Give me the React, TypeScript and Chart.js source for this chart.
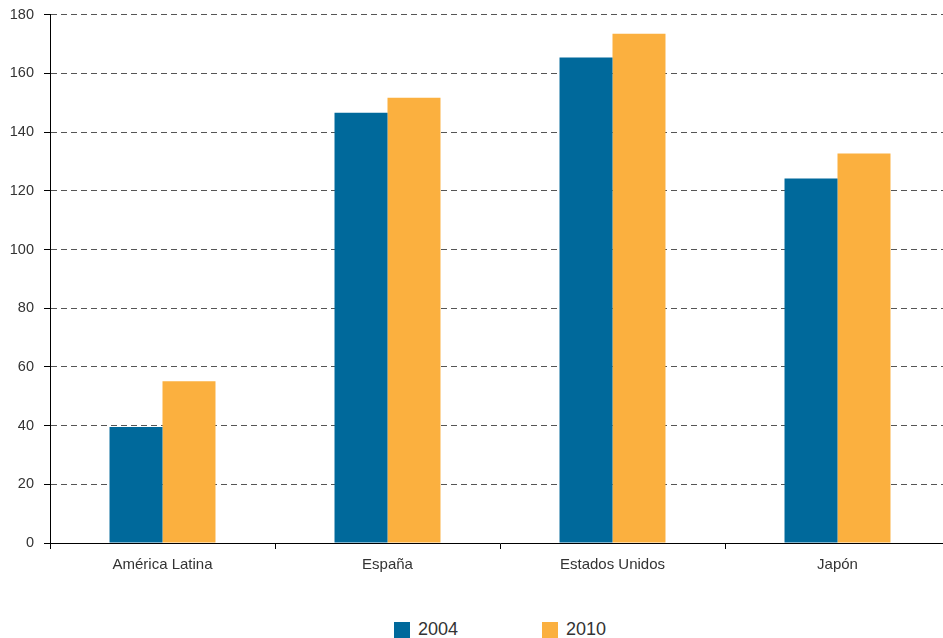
import React, { useEffect, useRef } from "react";
import { Chart, registerables } from "chart.js";

Chart.register(...registerables);

const categories = ["América Latina", "España", "Estados Unidos", "Japón"];
const series2004 = [39.5, 146.6, 165.4, 124.2];
const series2010 = [55.1, 151.7, 173.5, 132.7];
const seriesLabels = ["2004", "2010"];
const colors = ["#00699B", "#FBB03F"];

const FONT = "'Liberation Sans', Arial, sans-serif";

export default function App() {
  const ref = useRef<HTMLCanvasElement | null>(null);

  useEffect(() => {
    document.body.style.margin = "0";
    const chart = new Chart(ref.current as HTMLCanvasElement, {
      type: "bar",
      data: {
        labels: categories,
        datasets: [
          { label: seriesLabels[0], data: series2004, backgroundColor: colors[0], borderWidth: 0 },
          { label: seriesLabels[1], data: series2010, backgroundColor: colors[1], borderWidth: 0 },
        ],
      },
      options: {
        responsive: false,
        animation: false,
        layout: { padding: { top: 10, right: 0, left: 0, bottom: 0 } },
        datasets: { bar: { categoryPercentage: 0.471, barPercentage: 1 } },
        plugins: { legend: { display: false }, tooltip: { enabled: false } },
        scales: {
          x: {
            offset: true,
            grid: {
              display: true,
              offset: true,
              drawOnChartArea: false,
              drawTicks: true,
              tickLength: 6,
              color: "#000",
            },
            border: { display: true, color: "#000", width: 1 },
            ticks: { color: "#333", font: { family: FONT, size: 15 }, padding: 7 },
            afterFit: (s: any) => {
              s.height = 65;
            },
          },
          y: {
            min: 0,
            max: 180,
            ticks: { stepSize: 20, color: "#333", font: { family: FONT, size: 14.5 }, padding: 10 },
            grid: {
              color: "#555",
              lineWidth: 1,
              tickLength: 6,
              tickColor: "#000",
              tickBorderDash: [],
            },
            border: { display: true, color: "#000", width: 1, dash: [6, 4] },
            afterFit: (s: any) => {
              s.width = 50;
            },
          },
        },
      },
      plugins: [
        {
          id: "dashGrid",
          beforeInit(c: any) {
            c.options.scales.y.grid.borderDash = [6, 4];
          },
        },
      ],
    } as any);
    return () => chart.destroy();
  }, []);

  return (
    <div style={{ position: "relative", width: 943, height: 638, background: "#fff", overflow: "hidden" }}>
      <canvas ref={ref} width={950} height={612} style={{ display: "block", marginTop: -4 }} />
      <div
        style={{
          position: "absolute",
          left: 394,
          top: 619,
          display: "flex",
          alignItems: "center",
          fontFamily: FONT,
          fontSize: 18,
          color: "#333",
        }}
      >
        {seriesLabels.map((l, i) => (
          <div key={l} style={{ display: "flex", alignItems: "center", width: 148 }}>
            <span style={{ display: "inline-block", width: 16, height: 16, background: colors[i], marginRight: 8 }} />
            <span>{l}</span>
          </div>
        ))}
      </div>
    </div>
  );
}
